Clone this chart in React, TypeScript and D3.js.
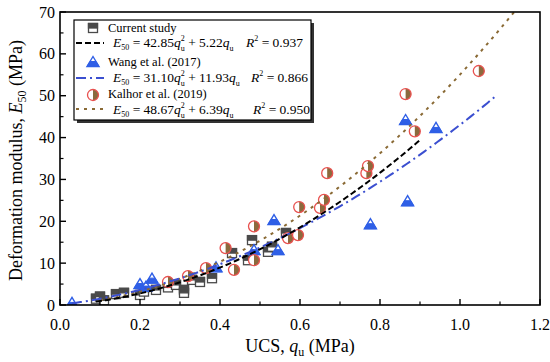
import React from "react";
import * as d3 from "d3";

const xTicks = [0.0, 0.2, 0.4, 0.6, 0.8, 1.0, 1.2];
const yTicks = [0, 10, 20, 30, 40, 50, 60, 70];

const currentStudy: [number, number][] = [
  [0.09, 1.5], [0.10, 2.0], [0.11, 1.1], [0.14, 2.6], [0.16, 2.9], [0.20, 2.4],
  [0.21, 3.2], [0.24, 3.6], [0.27, 4.2], [0.29, 4.8], [0.31, 3.6], [0.31, 2.9],
  [0.33, 6.0], [0.35, 5.5], [0.38, 6.4], [0.43, 12.4], [0.47, 10.7], [0.48, 15.5],
  [0.52, 12.7], [0.53, 13.9], [0.565, 17.2],
];
const wang2017: [number, number][] = [
  [0.03, 0.5], [0.20, 5.0], [0.215, 4.4], [0.23, 6.3], [0.39, 9.0], [0.485, 13.1],
  [0.535, 20.3], [0.545, 13.1], [0.776, 19.3], [0.864, 44.2], [0.869, 24.8], [0.94, 42.3],
];
const kalhor2019: [number, number][] = [
  [0.27, 5.5], [0.32, 6.9], [0.365, 8.8], [0.414, 13.6], [0.435, 8.4], [0.485, 10.7],
  [0.485, 18.8], [0.57, 16.0], [0.595, 16.7], [0.598, 23.4], [0.65, 23.2], [0.66, 25.1],
  [0.668, 31.5], [0.766, 31.5], [0.77, 33.2], [0.864, 50.4], [0.887, 41.5], [1.047, 55.9],
];

const fitCurrent = { a: 42.85, b: 5.22, from: 0.09, to: 0.9 };
const fitWang = { a: 31.10, b: 11.93, from: 0.03, to: 1.09 };
const fitKalhor = { a: 48.67, b: 6.39, from: 0.1, to: 1.135 };

const W = 550, H = 362;
const M = { left: 60, right: 540, top: 12, bottom: 305 };

const SQ = "#4a4a4a";
const TRI = "#2f5fe6";
const CIR_O = "#e8514f";
const CIR_F = "#8b6a3d";
const BLUE_LINE = "#3b4fd0";
const BROWN_LINE = "#8a6a35";

const font = "Liberation Serif";
const F = { fontFamily: font };

function Square({ x, y }: { x: number; y: number }) {
  const s = 9;
  return (
    <g transform={`translate(${x},${y})`}>
      <rect x={-s / 2} y={-s / 2} width={s} height={s} fill="#fff" stroke={SQ} strokeWidth={1.3} />
      <rect x={-s / 2} y={-s / 2} width={s} height={s / 2} fill={SQ} stroke={SQ} strokeWidth={1.3} />
    </g>
  );
}
function Triangle({ x, y }: { x: number; y: number }) {
  return (
    <g transform={`translate(${x},${y})`}>
      <polygon points="0,-5.5 6,4.5 -6,4.5" fill="#fff" stroke={TRI} strokeWidth={1.4} />
      <polygon points="-3,-0.5 3,-0.5 6,4.5 -6,4.5" fill={TRI} stroke={TRI} strokeWidth={1} />
    </g>
  );
}
function HalfCircle({ x, y }: { x: number; y: number }) {
  const r = 5.5;
  return (
    <g transform={`translate(${x},${y})`}>
      <circle r={r} fill="#fff" />
      <path d={`M0,${-r} A${r},${r} 0 0 1 0,${r} Z`} fill={CIR_F} />
      <circle r={r} fill="none" stroke={CIR_O} strokeWidth={1.3} />
    </g>
  );
}

function Eq({ x, y, a, b, r2, rx }: { x: number; y: number; a: string; b: string; r2: string; rx: number }) {
  const fs = 13.5;
  return (
    <g fontSize={fs} fill="#000">
      <text x={x} y={y} style={F}>
        <tspan fontStyle="italic">E</tspan>
        <tspan fontSize={8} dy={3}>50</tspan>
        <tspan dy={-3}>{` = ${a}`}</tspan>
        <tspan fontStyle="italic">q</tspan>
        <tspan fontSize={8} dy={3.5}>u</tspan>
        <tspan fontSize={8} dx={-4} dy={-10}>2</tspan>
        <tspan dy={6.5}>{` + ${b}`}</tspan>
        <tspan fontStyle="italic">q</tspan>
        <tspan fontSize={8} dy={3.5}>u</tspan>
      </text>
      <text x={rx} y={y} style={F}>
        <tspan fontStyle="italic">R</tspan>
        <tspan fontSize={8} dy={-6}>2</tspan>
        <tspan dy={6}>{` = ${r2}`}</tspan>
      </text>
    </g>
  );
}

export default function App() {
  const x = d3.scaleLinear().domain([0, 1.2]).range([M.left, M.right]);
  const y = d3.scaleLinear().domain([0, 70]).range([M.bottom, M.top]);

  const curve = (f: { a: number; b: number; from: number; to: number }) => {
    const pts = d3.range(0, 101).map((i) => {
      const q = f.from + ((f.to - f.from) * i) / 100;
      return [q, f.a * q * q + f.b * q] as [number, number];
    });
    return d3.line<[number, number]>().x((d) => x(d[0])).y((d) => y(d[1]))(pts) || "";
  };

  const xMinor = d3.range(0.1, 1.2, 0.2);
  const yMinor = d3.range(5, 70, 10);

  return (
    <svg width={W} height={H} style={{ position: "absolute", left: 0, top: 0, background: "#fff", fontFamily: font }}>
      <defs>
        <clipPath id="plot">
          <rect x={M.left} y={M.top} width={M.right - M.left} height={M.bottom - M.top} />
        </clipPath>
      </defs>
      <rect width={W} height={H} fill="#fff" />

      <g clipPath="url(#plot)">
        {currentStudy.map((d, i) => <Square key={"s" + i} x={x(d[0])} y={y(d[1])} />)}
        {wang2017.map((d, i) => <Triangle key={"t" + i} x={x(d[0])} y={y(d[1])} />)}
        {kalhor2019.map((d, i) => <HalfCircle key={"c" + i} x={x(d[0])} y={y(d[1])} />)}
        <path d={curve(fitKalhor)} fill="none" stroke={BROWN_LINE} strokeWidth={2} strokeDasharray="3,5" />
        <path d={curve(fitWang)} fill="none" stroke={BLUE_LINE} strokeWidth={2} strokeDasharray="10,4,2,4" />
        <path d={curve(fitCurrent)} fill="none" stroke="#000" strokeWidth={2} strokeDasharray="6,3" />
      </g>

      <rect x={M.left} y={M.top} width={M.right - M.left} height={M.bottom - M.top} fill="none" stroke="#000" strokeWidth={1.6} />

      {xTicks.map((t) => (
        <g key={"xt" + t}>
          <line x1={x(t)} x2={x(t)} y1={M.bottom} y2={M.bottom - 6} stroke="#000" strokeWidth={1.4} />
          <text x={x(t)} y={M.bottom + 25} textAnchor="middle" style={F} fontSize={16}>{t.toFixed(1)}</text>
        </g>
      ))}
      {xMinor.map((t) => (
        <line key={"xm" + t} x1={x(t)} x2={x(t)} y1={M.bottom} y2={M.bottom - 3.5} stroke="#000" strokeWidth={1.2} />
      ))}
      {yTicks.map((t) => (
        <g key={"yt" + t}>
          <line x1={M.left} x2={M.left + 6} y1={y(t)} y2={y(t)} stroke="#000" strokeWidth={1.4} />
          <text x={M.left - 5} y={y(t) + 5.5} textAnchor="end" style={F} fontSize={16}>{t}</text>
        </g>
      ))}
      {yMinor.map((t) => (
        <line key={"ym" + t} x1={M.left} x2={M.left + 3.5} y1={y(t)} y2={y(t)} stroke="#000" strokeWidth={1.2} />
      ))}

      <text x={(M.left + M.right) / 2} y={352} textAnchor="middle" style={F} fontSize={18}>
        UCS, <tspan fontStyle="italic">q</tspan><tspan fontSize={12} dy={4}>u</tspan><tspan dy={-4}> (MPa)</tspan>
      </text>
      <text transform={`translate(22,${(M.top + M.bottom) / 2 + 2}) rotate(-90)`} textAnchor="middle" style={F} fontSize={18}>
        Deformation modulus, <tspan fontStyle="italic">E</tspan><tspan fontSize={12} dy={4}>50</tspan><tspan dy={-4}> (MPa)</tspan>
      </text>

      <g>
        <rect x={77} y={23} width={237} height={100} fill="#333" />
        <rect x={74} y={20} width={237} height={100} fill="#fff" stroke="#000" strokeWidth={1.2} />
        <Square x={93} y={28} />
        <text x={108} y={32} style={F} fontSize={12.5}>Current study</text>
        <line x1={76} x2={104} y1={43} y2={43} stroke="#000" strokeWidth={2} strokeDasharray="6,3" />
        <Eq x={113} y={47} a="42.85" b="5.22" r2="0.937" rx={246} />
        <Triangle x={93} y={62} />
        <text x={108} y={66} style={F} fontSize={12.5}>Wang et al. (2017)</text>
        <line x1={76} x2={104} y1={78} y2={78} stroke={BLUE_LINE} strokeWidth={2} strokeDasharray="10,4,2,4" />
        <Eq x={113} y={82} a="31.10" b="11.93" r2="0.866" rx={251} />
        <HalfCircle x={93} y={95} />
        <text x={108} y={98} style={F} fontSize={12.5}>Kalhor et al. (2019)</text>
        <line x1={76} x2={104} y1={109} y2={109} stroke={BROWN_LINE} strokeWidth={2} strokeDasharray="3,5" />
        <Eq x={113} y={114} a="48.67" b="6.39" r2="0.950" rx={253} />
      </g>
    </svg>
  );
}
